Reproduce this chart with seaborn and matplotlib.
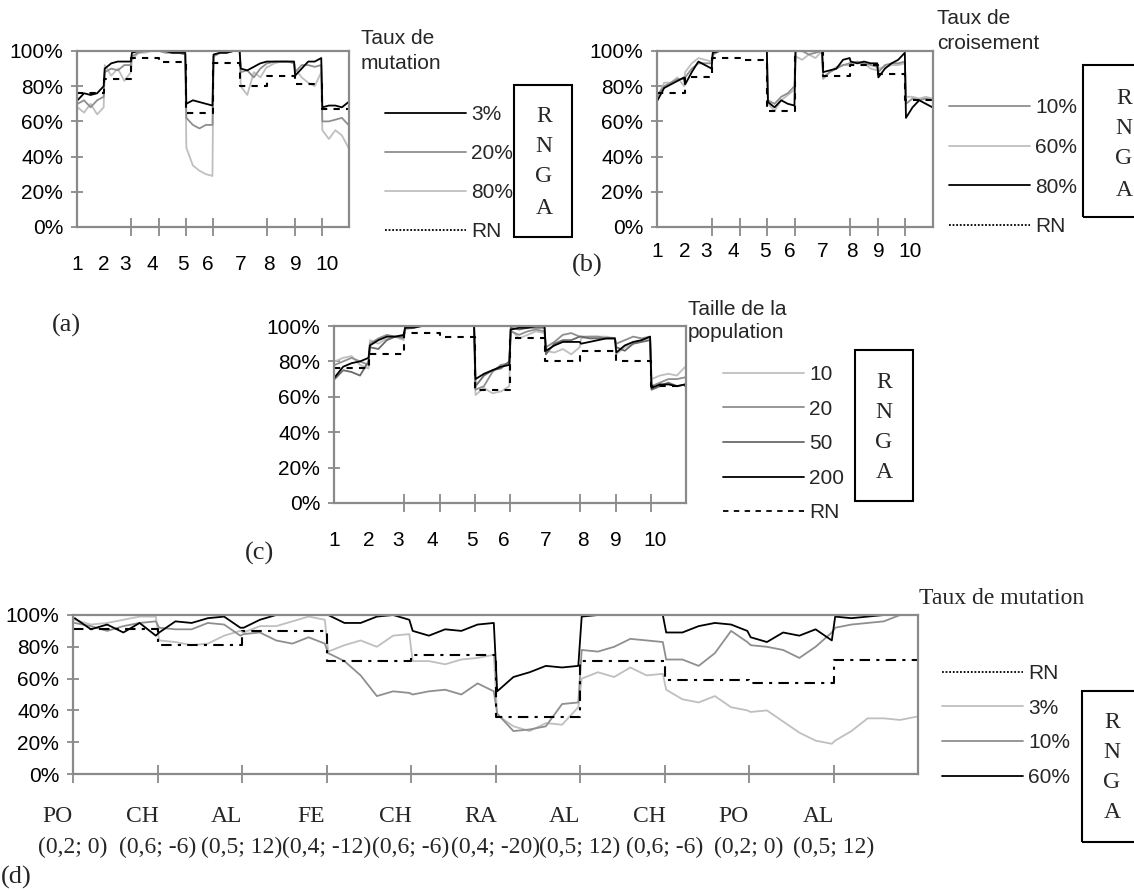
import numpy as np
import matplotlib
matplotlib.use("Agg")
import matplotlib.pyplot as plt
import seaborn as sns
from matplotlib.lines import Line2D
from matplotlib.patches import Rectangle
from matplotlib.ticker import PercentFormatter, FixedLocator

sns.set_theme(style="white")
plt.rcParams["font.family"] = ["Liberation Sans", "DejaVu Sans"]
SERIF = ["Liberation Serif", "DejaVu Serif"]

# ---------------- data (percent, 5 samples per generation block for a-c, 6 for d)
# (a) Taux de mutation
a_mut3 = [72, 76, 75, 76, 80,  90, 93, 94, 94, 94,  99, 100, 100, 100, 100,
          100, 100, 99, 99, 99,  70, 72, 71, 70, 69,  98, 99, 99, 100, 100,
          90, 89, 91, 93, 94,  94, 94, 94, 94, 94,  86, 90, 94, 94, 96,
          68, 69, 69, 68, 71]
a_mut20 = [70, 72, 68, 72, 74,  88, 90, 89, 92, 92,  97, 99, 100, 100, 100,
           100, 99, 99, 99, 98,  62, 58, 56, 58, 58,  97, 99, 99, 100, 100,
           88, 89, 85, 90, 93,  93, 94, 94, 94, 93,  88, 92, 92, 91, 92,
           60, 60, 61, 62, 58]
a_mut80 = [68, 65, 70, 64, 68,  92, 86, 90, 83, 88,  95, 99, 99, 100, 100,
           100, 100, 99, 99, 98,  45, 35, 32, 30, 29,  97, 99, 99, 100, 100,
           80, 75, 88, 85, 91,  91, 93, 94, 94, 94,  90, 85, 82, 80, 88,
           55, 50, 55, 52, 45]
a_rn = [76, 84, 96, 94, 65, 93, 80, 86, 81, 67]

# (b) Taux de croisement
b_cr10 = [75, 80, 82, 84, 84,  85, 90, 93, 93, 93,  98, 100, 100, 100, 100,
          100, 100, 100, 100, 100,  72, 70, 74, 76, 80,  100, 100, 98, 99, 100,
          85, 88, 90, 92, 93,  93, 94, 93, 92, 91,  88, 92, 93, 93, 94,
          70, 73, 72, 73, 72]
b_cr60 = [74, 82, 82, 85, 80,  88, 93, 96, 95, 94,  98, 100, 100, 100, 100,
          100, 100, 100, 100, 100,  70, 66, 72, 75, 78,  97, 95, 98, 96, 100,
          84, 88, 91, 92, 92,  94, 93, 93, 90, 89,  90, 91, 92, 92, 93,
          74, 74, 73, 74, 73]
b_cr80 = [72, 79, 81, 83, 85,  81, 88, 94, 92, 90,  99, 100, 100, 100, 100,
          100, 100, 100, 100, 100,  71, 68, 72, 70, 69,  100, 100, 100, 100, 100,
          88, 89, 90, 95, 96,  94, 93, 94, 93, 93,  85, 90, 93, 95, 99,
          62, 68, 72, 70, 68]
b_rn = [76, 85, 96, 95, 66, 100, 86, 92, 87, 72]

# (c) Taille de la population
c_pop10 = [80, 82, 83, 78, 76,  92, 90, 93, 94, 92,  98, 99, 100, 100, 100,
           100, 100, 100, 100, 100,  61, 65, 62, 63, 66,  98, 93, 95, 97, 96,
           86, 85, 87, 84, 88,  93, 94, 94, 94, 93,  84, 88, 90, 92, 93,
           70, 72, 73, 72, 77]
c_pop20 = [78, 80, 82, 80, 78,  90, 93, 95, 94, 93,  99, 100, 100, 100, 100,
           100, 100, 100, 100, 100,  64, 66, 74, 78, 79,  97, 95, 97, 98, 97,
           88, 91, 95, 96, 94,  94, 94, 94, 93, 93,  90, 92, 94, 93, 94,
           66, 68, 70, 70, 71]
c_pop50 = [70, 75, 74, 72, 80,  88, 87, 92, 94, 94,  99, 100, 100, 100, 100,
           100, 100, 100, 100, 100,  66, 72, 75, 76, 80,  99, 98, 99, 99, 99,
           84, 90, 92, 92, 94,  94, 93, 93, 93, 93,  88, 86, 90, 91, 92,
           64, 66, 68, 66, 67]
c_pop200 = [71, 77, 79, 80, 82,  89, 92, 94, 94, 95,  99, 99, 100, 100, 100,
            100, 100, 100, 100, 100,  70, 73, 75, 77, 78,  98, 99, 99, 100, 100,
            86, 89, 91, 91, 91,  90, 91, 92, 93, 93,  85, 89, 91, 92, 94,
            65, 67, 67, 66, 67]
c_rn = [76, 84, 96, 94, 64, 93, 80, 86, 80, 66]

# (d) Taux de mutation, changing environments
d_labels_top = ["PO", "CH", "AL", "FE", "CH", "RA", "AL", "CH", "PO", "AL"]
d_labels_bottom = ["(0,2; 0)", "(0,6; -6)", "(0,5; 12)", "(0,4; -12)", "(0,6; -6)",
                   "(0,4; -20)", "(0,5; 12)", "(0,6; -6)", "(0,2; 0)", "(0,5; 12)"]
d_mut3 = [97, 94, 95, 97, 99, 99,  84, 83, 81, 82, 87, 90,  89, 93, 93, 96, 99, 97,
          77, 81, 84, 80, 87, 88,  71, 71, 69, 72, 73, 75,  37, 30, 27, 32, 31, 42,
          60, 64, 61, 67, 62, 63,  53, 47, 45, 49, 42, 40,  39, 40, 33, 26, 21, 19,
          21, 27, 35, 35, 34, 36]
d_mut10 = [95, 93, 90, 93, 95, 96,  92, 91, 91, 95, 94, 87,  88, 89, 84, 82, 86, 82,
           76, 71, 62, 49, 52, 51,  50, 52, 53, 50, 57, 52,  38, 27, 28, 30, 44, 45,
           78, 77, 80, 85, 84, 83,  72, 72, 68, 76, 90, 83,  81, 80, 78, 73, 80, 89,
           92, 94, 95, 96, 100, 100]
d_mut60 = [98, 91, 94, 89, 95, 87,  89, 96, 95, 98, 99, 92,  92, 97, 100, 100, 100, 100,
           100, 95, 95, 99, 100, 97,  90, 87, 91, 90, 94, 95,  52, 61, 64, 68, 67, 68,
           99, 100, 100, 100, 100, 100,  89, 89, 93, 95, 94, 90,  86, 83, 89, 87, 91, 84,
           99, 98, 99, 100, 100, 100]
d_rn = [91, 81, 90, 71, 75, 36, 71, 59, 57, 72]

tick_names = [str(i) for i in range(1, 11)]

# ---------------- styling
BLACK = "#000000"
DARK = "#6a6a6a"
MID = "#8f8f8f"
LIGHT = "#bfbfbf"
AXIS = "#8a8a8a"

W, H = 1134, 890
fig = plt.figure(figsize=(W / 100, H / 100), dpi=100)


def box(l, t, r, b):
    return [l / W, 1 - b / H, (r - l) / W, (b - t) / H]


def fx(x):
    return x / W


def fy(y):
    return 1 - y / H


def seg_x(n_per):
    offs = np.linspace(0.02, 0.98, n_per)
    return (np.arange(10)[:, None] + offs[None, :]).ravel()


def draw(ax, series, rn, rn_ls, n_per):
    xs = seg_x(n_per)
    for vals, col in series:
        sns.lineplot(x=xs, y=vals, ax=ax, color=col, lw=1.3, sort=False)
    sns.lineplot(x=np.arange(11), y=rn + rn[-1:], ax=ax, color=BLACK, lw=1.5,
                 linestyle=rn_ls, drawstyle="steps-post", sort=False)


def style(ax, xtick_len, label_pos=None, pad=16):
    ax.set_xlim(0, 10)
    ax.set_ylim(0, 100)
    ax.set_yticks(range(0, 101, 20))
    ax.yaxis.set_major_formatter(PercentFormatter(100, decimals=0))
    for s in ax.spines.values():
        s.set_visible(True)
        s.set_color(AXIS)
        s.set_linewidth(1.6)
    ax.tick_params(axis="y", direction="inout", length=8, width=1.3, color=AXIS,
                   labelsize=15, pad=6, left=True, labelcolor="black")
    ax.xaxis.set_minor_locator(FixedLocator(range(10)))
    ax.tick_params(axis="x", which="minor", direction="inout", length=xtick_len,
                   width=1.3, color=AXIS, bottom=True)
    if label_pos is None:
        ax.set_xticks([])
    else:
        ax.set_xticks(label_pos)
        ax.set_xticklabels(tick_names)
        ax.tick_params(axis="x", which="major", length=0, labelsize=15, pad=pad,
                       bottom=True, labelcolor="black")
    ax.set_xlabel("")
    ax.set_ylabel("")


def legend(handles, labels, x, y, spacing):
    fig.legend(handles, labels, loc="upper left", bbox_to_anchor=(fx(x), fy(y)),
               frameon=False, fontsize=15, handlelength=3.9, handletextpad=0.25,
               labelspacing=spacing, borderpad=0, borderaxespad=0)


def rnga(l, t, r, b, xc, ys):
    fig.patches.append(Rectangle((fx(l), fy(b)), (r - l) / W, (b - t) / H,
                                 transform=fig.transFigure, fill=False,
                                 edgecolor="black", lw=1.5, clip_on=False))
    for letter, y in zip("RNGA", ys):
        fig.text(fx(xc), fy(y), letter, family=SERIF, fontsize=17,
                 ha="center", va="center")


def proxy(col, ls="-"):
    return Line2D([], [], color=col, lw=1.3, linestyle=ls)


lab_a = [0, 1, 1.78, 2.78, 3.9, 4.82, 6, 7.07, 8.03, 9.18]
DOT = (0, (1, 1))
DASH = (0, (3, 3))
DASHDOT = (0, (5, 3, 1.5, 3))
PANEL_FS = 19

# (a)
ax_a = fig.add_axes(box(77, 51, 349, 227))
draw(ax_a, [(a_mut80, LIGHT), (a_mut20, MID), (a_mut3, BLACK)], a_rn, DASH, 5)
style(ax_a, 13, lab_a, pad=20)
fig.text(fx(361), fy(29), "Taux de\nmutation", fontsize=15, va="top", linespacing=1.4)
legend([proxy(BLACK), proxy(MID), proxy(LIGHT), proxy(BLACK, DOT)],
       ["3%", "20%", "80%", "RN"], 385, 105, 0.96)
rnga(514, 85, 572, 237, 544, [117, 147, 177, 208])
fig.text(fx(66), fy(325), "(a)", family=SERIF, fontsize=PANEL_FS, ha="center", va="center")

# (b)
ax_b = fig.add_axes(box(657, 51, 933, 227))
draw(ax_b, [(b_cr60, LIGHT), (b_cr10, MID), (b_cr80, BLACK)], b_rn, DASH, 5)
style(ax_b, 13, lab_a, pad=11)
fig.text(fx(937), fy(9), "Taux de\ncroisement", fontsize=15, va="top", linespacing=1.4)
legend([proxy(MID), proxy(LIGHT), proxy(BLACK), proxy(BLACK, DOT)],
       ["10%", "60%", "80%", "RN"], 949, 98, 1.0)
rnga(1083, 65, 1165, 217, 1124, [98, 128, 158, 190])
fig.text(fx(587), fy(265), "(b)", family=SERIF, fontsize=PANEL_FS, ha="center", va="center")

# (c)
ax_c = fig.add_axes(box(334, 326, 686, 503))
draw(ax_c, [(c_pop10, LIGHT), (c_pop20, MID), (c_pop50, DARK), (c_pop200, BLACK)],
     c_rn, DASH, 5)
style(ax_c, 13, [0, 1, 1.83, 2.8, 3.92, 4.83, 6, 7.08, 8.02, 9.12], pad=20)
fig.text(fx(688), fy(300), "Taille de la\npopulation", fontsize=15, va="top", linespacing=1.3)
legend([proxy(LIGHT), proxy(MID), proxy(DARK), proxy(BLACK), proxy(BLACK, DASH)],
       ["10", "20", "50", "200", "RN"], 723, 365, 0.75)
rnga(855, 350, 913, 501, 884, [383, 412, 442, 473])
fig.text(fx(259), fy(553), "(c)", family=SERIF, fontsize=PANEL_FS, ha="center", va="center")

# (d)
ax_d = fig.add_axes(box(73, 615, 918, 774))
draw(ax_d, [(d_mut3, LIGHT), (d_mut10, MID), (d_mut60, BLACK)], d_rn, DASHDOT, 6)
style(ax_d, 13)
xt = ax_d.get_xaxis_transform()
for k, (top, bot) in enumerate(zip(d_labels_top, d_labels_bottom)):
    ax_d.text(k - 0.18, -0.27, top, transform=xt, family=SERIF, fontsize=17,
              ha="center", va="center")
    ax_d.text(k, -0.465, bot, transform=xt, family=SERIF, fontsize=17,
              ha="center", va="center")
fig.text(fx(919), fy(588), "Taux de mutation", family=SERIF, fontsize=17, va="top")
legend([proxy(BLACK, DOT), proxy(LIGHT), proxy(MID), proxy(BLACK)],
       ["RN", "3%", "10%", "60%"], 942, 664, 0.75)
rnga(1082, 691, 1165, 842, 1112, [723, 752, 782, 813])
fig.text(fx(16), fy(877), "(d)", family=SERIF, fontsize=PANEL_FS, ha="center", va="center")

fig.savefig("out.png", dpi=100)
